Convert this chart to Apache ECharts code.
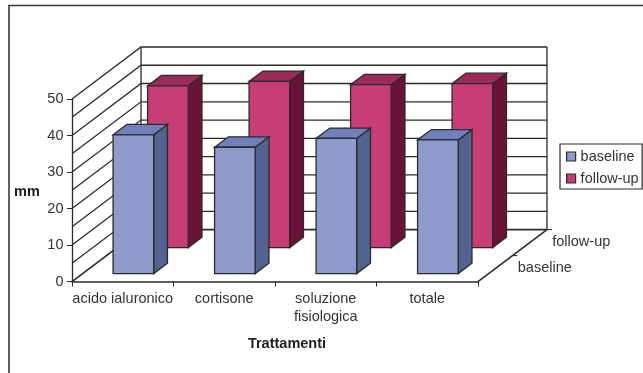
<!DOCTYPE html>
<html>
<head>
<meta charset="utf-8">
<style>html,body{margin:0;padding:0;background:#fff}#chart{width:643px;height:373px}</style>
<script src="https://cdn.jsdelivr.net/npm/echarts@6/dist/echarts.min.js"></script>
</head>
<body>
<div id="chart"></div>
<script>
const categories = ['acido ialuronico', 'cortisone', 'soluzione\nfisiologica', 'totale'];
const baseline = [38.0, 34.6, 37.0, 36.6];
const followUp = [44.3, 45.5, 44.6, 44.9];
const depthRows = ['baseline', 'follow-up'];
const gridValues = [0, 5, 10, 15, 20, 25, 30, 35, 40, 45, 50];

// Oblique projection of the depth axis, in pixels from front plane to back wall.
const DEPTH_X = 69;
const DEPTH_Y = -52;
// Fractions of the floor depth taken by each row's bars.
const ROW_SPAN = 0.5;
const ROW_GAP = 0.154;
const BAR_DEPTH = 0.2;
const BAR_WIDTH = 0.4;

const INK = '#2b2b2b';
const TEXT = '#333333';
const FONT = '"Liberation Sans", Arial, sans-serif';
const RULE = 1.3;

const shift = (p, t) => [p[0] + DEPTH_X * t, p[1] + DEPTH_Y * t];

function polygon(points, fill) {
  return { type: 'polygon', shape: { points }, style: { fill, stroke: INK, lineWidth: RULE } };
}

function barRenderer(row, faces) {
  return function (params, api) {
    const i = api.value(0);
    const band = api.size([1, 0])[0];
    const half = band * BAR_WIDTH / 2;
    const base = api.coord([i, 0]);
    const top = api.coord([i, api.value(1)]);
    const t0 = ROW_GAP + row * ROW_SPAN;
    const t1 = t0 + BAR_DEPTH;
    const fbl = shift([base[0] - half, base[1]], t0);
    const fbr = shift([base[0] + half, base[1]], t0);
    const ftl = shift([top[0] - half, top[1]], t0);
    const ftr = shift([top[0] + half, top[1]], t0);
    const bbr = shift([base[0] + half, base[1]], t1);
    const btl = shift([top[0] - half, top[1]], t1);
    const btr = shift([top[0] + half, top[1]], t1);
    return {
      type: 'group',
      children: [
        polygon([fbr, ftr, btr, bbr], faces.side),
        polygon([ftl, ftr, btr, btl], faces.top),
        polygon([fbl, fbr, ftr, ftl], faces.front)
      ]
    };
  };
}

// Side wall and back wall rules, one polyline per gridline value.
function wallRenderer(params, api) {
  const v = api.value(1);
  const band = api.size([1, 0])[0];
  const left = api.coord([0, v])[0] - band / 2;
  const right = api.coord([categories.length - 1, v])[0] + band / 2;
  const y = api.coord([0, v])[1];
  const y0 = api.coord([0, 0])[1];
  const y1 = api.coord([0, gridValues[gridValues.length - 1]])[1];
  const backL = shift([left, y], 1);
  const backR = shift([right, y], 1);
  const children = [{
    type: 'polyline',
    shape: { points: [[left, y], backL, backR] },
    style: { fill: 'none', stroke: INK, lineWidth: v === 0 ? 1.6 : RULE }
  }];
  if (v === 0) {
    children.push(
      { type: 'polyline', shape: { points: [shift([left, y0], 1), shift([left, y1], 1)] },
        style: { fill: 'none', stroke: INK, lineWidth: RULE } },
      { type: 'polyline', shape: { points: [shift([right, y0], 1), shift([right, y1], 1)] },
        style: { fill: 'none', stroke: INK, lineWidth: RULE } },
      { type: 'polyline', shape: { points: [[right, y0], shift([right, y0], 1)] },
        style: { fill: 'none', stroke: INK, lineWidth: 1.6 } }
    );
  }
  return { type: 'group', children };
}

// Row names and ticks along the right edge of the floor.
function depthAxisRenderer(params, api) {
  const band = api.size([1, 0])[0];
  const corner = api.coord([categories.length - 1, 0]);
  const edge = [corner[0] + band / 2, corner[1]];
  const row = params.dataIndex;
  const mid = shift(edge, (row + 0.5) * ROW_SPAN);
  const end = shift(edge, (row + 1) * ROW_SPAN);
  return {
    type: 'group',
    children: [
      { type: 'line', shape: { x1: end[0], y1: end[1], x2: end[0] + 5, y2: end[1] },
        style: { stroke: INK, lineWidth: 1 } },
      { type: 'text', x: mid[0] + 22.5, y: mid[1] - 0.5,
        style: { text: depthRows[row], fill: TEXT, font: '14.5px ' + FONT,
                 textAlign: 'left', textVerticalAlign: 'middle' } }
    ]
  };
}

const chart = echarts.init(document.getElementById('chart'), null, { renderer: 'canvas' });
chart.setOption({
  animation: false,
  backgroundColor: '#ffffff',
  textStyle: { fontFamily: FONT },
  grid: { left: 72, right: 165, top: 99, bottom: 91.4, containLabel: false },
  graphic: [
    { type: 'polyline', shape: { points: [[9, 373], [9, 5.5], [643, 5.5]] },
      style: { fill: 'none', stroke: '#3a3a3a', lineWidth: 1.6 }, silent: true },
    { type: 'text', x: 14, y: 192, silent: true,
      style: { text: 'mm', fill: '#222222', font: 'bold 14.5px ' + FONT,
               textAlign: 'left', textVerticalAlign: 'middle' } }
  ],
  legend: {
    orient: 'vertical',
    left: 560,
    top: 144,
    data: depthRows,
    icon: 'rect',
    itemWidth: 9,
    itemHeight: 9,
    itemGap: 7,
    padding: [5, 3.5, 3, 6],
    borderColor: INK,
    borderWidth: 1.2,
    selectedMode: false,
    textStyle: { color: TEXT, fontSize: 14.5, fontFamily: FONT },
    itemStyle: { borderColor: INK, borderWidth: 1.2 }
  },
  xAxis: {
    type: 'category',
    data: categories,
    boundaryGap: true,
    axisLine: { show: true, lineStyle: { color: INK, width: 1.6 } },
    axisTick: { show: true, alignWithLabel: false, length: 5, lineStyle: { color: INK } },
    axisLabel: { color: TEXT, fontSize: 14.5, margin: 9, lineHeight: 17.5, interval: 0 },
    name: 'Trattamenti',
    nameLocation: 'middle',
    nameGap: 55,
    nameTextStyle: { color: '#222222', fontWeight: 'bold', fontSize: 14.5, padding: [0, 0, 0, 24] }
  },
  yAxis: {
    type: 'value',
    min: 0,
    max: 50,
    interval: 10,
    splitLine: { show: false },
    axisLine: { show: true, lineStyle: { color: INK, width: 1.3 } },
    axisTick: { show: true, length: 5, lineStyle: { color: INK } },
    axisLabel: { color: TEXT, fontSize: 14.5, margin: 8.5 }
  },
  series: [
    {
      type: 'custom',
      silent: true,
      clip: false,
      data: gridValues.map(v => [0, v]),
      encode: { x: 0, y: 1 },
      renderItem: wallRenderer,
      z: 1
    },
    {
      type: 'custom',
      name: 'follow-up',
      clip: false,
      itemStyle: { color: '#c63e75' },
      data: followUp.map((v, i) => [i, v]),
      encode: { x: 0, y: 1 },
      renderItem: barRenderer(1, { front: '#c63e75', side: '#6a1238', top: '#9a2b5b' }),
      z: 2
    },
    {
      type: 'custom',
      name: 'baseline',
      clip: false,
      itemStyle: { color: '#8e9bcb' },
      data: baseline.map((v, i) => [i, v]),
      encode: { x: 0, y: 1 },
      renderItem: barRenderer(0, { front: '#8e9bcb', side: '#53638f', top: '#6f80bc' }),
      z: 3
    },
    {
      type: 'custom',
      silent: true,
      clip: false,
      data: depthRows.map(() => [categories.length - 1, 0]),
      encode: { x: 0, y: 1 },
      renderItem: depthAxisRenderer,
      z: 4
    }
  ]
});
</script>
</body>
</html>
